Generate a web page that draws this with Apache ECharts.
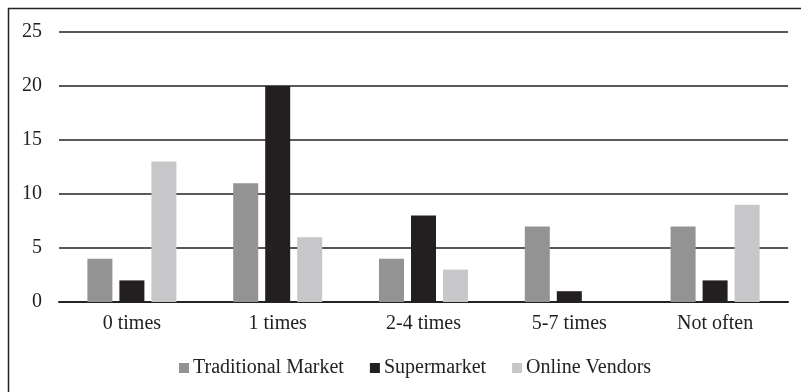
<!DOCTYPE html>
<html><head><meta charset="utf-8">
<script src="https://cdn.jsdelivr.net/npm/echarts@6/dist/echarts.min.js"></script>
<style>html,body{margin:0;padding:0;background:#fff}#c{width:801px;height:392px}</style>
</head><body><div id="c"></div>
<script>
const categories = ['0 times', '1 times', '2-4 times', '5-7 times', 'Not often'];
const traditionalMarket = [4, 11, 4, 7, 7];
const supermarket = [2, 20, 8, 1, 2];
const onlineVendors = [13, 6, 3, 0, 9];
const yTicks = [0, 5, 10, 15, 20, 25];

const font = '"Liberation Serif", "Times New Roman", serif';
const chart = echarts.init(document.getElementById('c'), null, {renderer: 'canvas'});
chart.setOption({
  animation: false,
  backgroundColor: '#fff',
  textStyle: {fontFamily: font},
  graphic: [{
    type: 'rect', shape: {x: 8.5, y: 8.5, width: 820, height: 420},
    style: {fill: 'none', stroke: '#222', lineWidth: 1.5}, silent: true
  }],
  grid: {left: 59, right: 13, top: 32, bottom: 90, containLabel: false},
  legend: {
    left: 174, top: 353, itemWidth: 10, itemHeight: 10, itemGap: 26,
    icon: 'rect',
    textStyle: {fontFamily: font, fontSize: 20, color: '#222', padding: [0, 0, 0, -1]},
    data: ['Traditional Market', 'Supermarket', 'Online Vendors']
  },
  xAxis: {
    type: 'category', data: categories,
    axisLine: {lineStyle: {color: '#222', width: 2}},
    axisTick: {show: false},
    axisLabel: {fontFamily: font, fontSize: 20, color: '#222', margin: 12}
  },
  yAxis: {
    type: 'value', min: yTicks[0], max: yTicks[yTicks.length - 1], interval: 5,
    axisLine: {show: false}, axisTick: {show: false},
    axisLabel: {fontFamily: font, fontSize: 20, color: '#222', margin: 17},
    splitLine: {lineStyle: {color: '#222', width: 1.5}}
  },
  series: [
    {name: 'Traditional Market', type: 'bar', data: traditionalMarket, barWidth: 25, barGap: '28%', itemStyle: {color: '#939393'}},
    {name: 'Supermarket', type: 'bar', data: supermarket, barWidth: 25, barGap: '28%', itemStyle: {color: '#231f20'}},
    {name: 'Online Vendors', type: 'bar', data: onlineVendors, barWidth: 25, barGap: '28%', itemStyle: {color: '#c7c7c9'}}
  ]
});
</script></body></html>
